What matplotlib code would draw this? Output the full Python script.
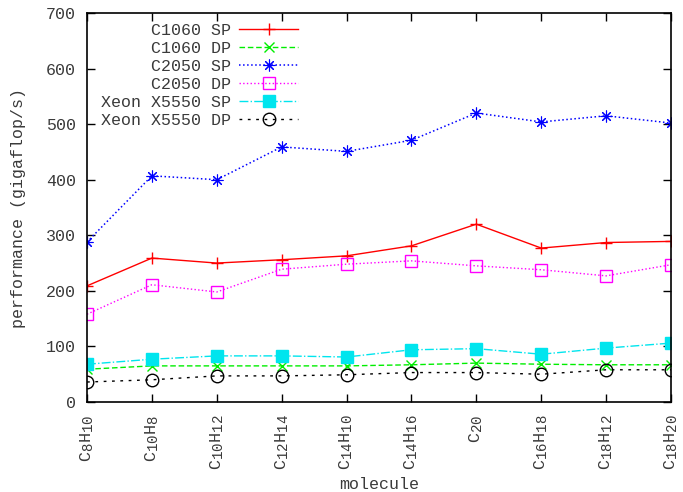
import matplotlib
matplotlib.use("Agg")
import matplotlib.pyplot as plt
import matplotlib._mathtext as mathtext_internal

# gnuplot-like larger subscripts
mathtext_internal.SHRINK_FACTOR = 0.85

plt.rcParams['font.family'] = ['Liberation Mono', 'DejaVu Sans Mono']
plt.rcParams['mathtext.fontset'] = 'custom'
plt.rcParams['mathtext.rm'] = 'Liberation Mono'
plt.rcParams['mathtext.it'] = 'Liberation Mono'
plt.rcParams['mathtext.default'] = 'rm'
plt.rcParams['text.color'] = '#3a3a3a'
plt.rcParams['xtick.labelcolor'] = '#3a3a3a'
plt.rcParams['ytick.labelcolor'] = '#3a3a3a'
plt.rcParams['axes.labelcolor'] = '#3a3a3a'

# molecules on the x axis
molecules = [r'C$_{8}$H$_{10}$', r'C$_{10}$H$_{8}$', r'C$_{10}$H$_{12}$', r'C$_{12}$H$_{14}$',
             r'C$_{14}$H$_{10}$', r'C$_{14}$H$_{16}$', r'C$_{20}$', r'C$_{16}$H$_{18}$',
             r'C$_{18}$H$_{12}$', r'C$_{18}$H$_{20}$']

# performance in gigaflop/s
c1060_sp = [209, 259, 250, 256, 263, 281, 320, 277, 287, 289]
c1060_dp = [59, 65, 65, 65, 65, 67, 70, 68, 67, 67]
c2050_sp = [288, 407, 400, 459, 451, 471, 520, 504, 515, 502]
c2050_dp = [158, 211, 198, 239, 248, 254, 245, 238, 227, 247]
xeon_sp = [68, 77, 83, 83, 81, 94, 96, 86, 97, 106]
xeon_dp = [36, 40, 47, 47, 49, 53, 53, 50, 58, 58]

x = list(range(len(molecules)))

fig = plt.figure(figsize=(6.83, 4.92), dpi=100)
ax = fig.add_axes([0.1274, 0.1829, 0.855, 0.7907])

ax.plot(x, c1060_sp, color='#ff0000', linestyle='-', lw=1, marker='+', ms=9, mew=1,
        label='C1060 SP')
ax.plot(x, c1060_dp, color='#00ee00', linestyle='--', dashes=(4, 2), lw=1, marker='x', ms=7.5, mew=1,
        label='C1060 DP')
ax.plot(x, c2050_sp, color='#0000ff', linestyle=':', lw=1.1, marker=(8, 2, 0), ms=8.5, mew=0.8,
        label='C2050 SP')
ax.plot(x, c2050_dp, color='#ff00ff', linestyle=':', lw=1, marker='s', ms=8.5, mew=1,
        mfc='none', label='C2050 DP')
ax.plot(x, xeon_sp, color='#00e5ee', linestyle='-.', lw=1, marker='s', ms=8.5, mew=1,
        label='Xeon X5550 SP')
ax.plot(x, xeon_dp, color='black', linestyle=(0, (2, 4)), lw=1, marker='o', ms=9, mew=1,
        mfc='none', label='Xeon X5550 DP')

ax.set_xlim(0, len(molecules) - 1)
ax.set_ylim(0, 700)
ax.set_yticks(range(0, 701, 100))
ax.set_xticks(x)
ax.set_xticklabels(molecules, rotation=90, fontsize=12)
ax.tick_params(axis='y', labelsize=12, pad=8)
ax.tick_params(axis='x', pad=9)
ax.tick_params(direction='in', length=6, top=True, right=True, width=1)
for s in ax.spines.values():
    s.set_linewidth(1.2)

ax.set_xlabel('molecule', fontsize=12, labelpad=5)
ax.set_ylabel('performance (gigaflop/s)', fontsize=12, labelpad=14)

leg = ax.legend(loc='upper left', frameon=False, markerfirst=False, fontsize=12,
                handlelength=3.5, handletextpad=0.5, labelspacing=0.18,
                borderaxespad=0.2, bbox_to_anchor=(0.007, 1.0))
for t in leg.get_texts():
    t.set_ha('right')
leg._legend_box.align = 'right'

fig.savefig('out.png', dpi=100)
